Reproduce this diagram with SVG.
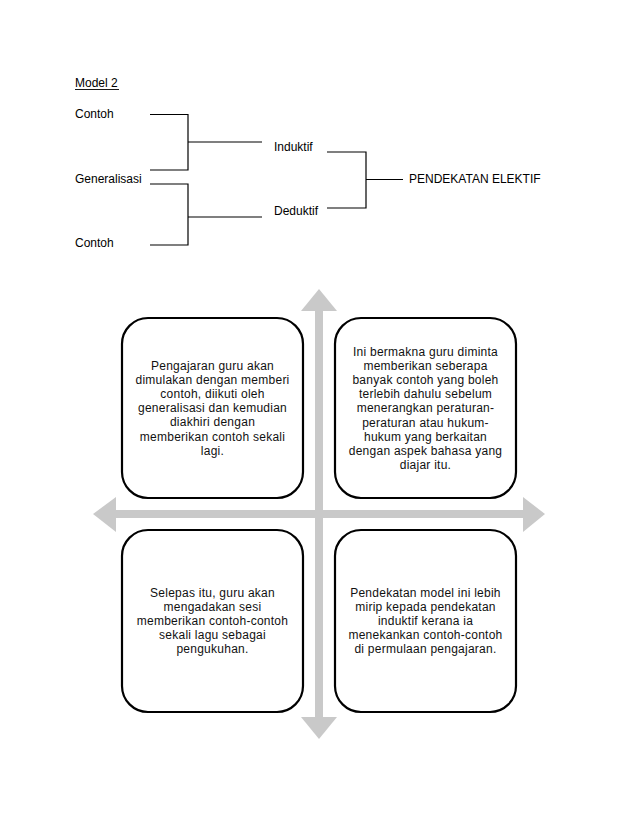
<svg xmlns="http://www.w3.org/2000/svg" width="638" height="826" viewBox="0 0 638 826">
<style>
text{font-family:"Liberation Sans",Arial,sans-serif;font-size:12px;fill:#000}
.bt{text-anchor:middle;font-size:12px;fill:#111;letter-spacing:0.25px}
.ln{stroke:#000;stroke-width:1.2;fill:none}
.box{fill:#fff;stroke:#000;stroke-width:2.2}
.arr{fill:#c9c9c9}
</style>
<rect width="638" height="826" fill="#fff"/>
<g id="title">
<text x="75" y="87">Model 2</text>
<line x1="75" y1="89.5" x2="119" y2="89.5" stroke="#000" stroke-width="0.9"/>
</g>
<g id="n-contoh1"><text x="75" y="118">Contoh</text></g>
<g id="n-generalisasi"><text x="75" y="183">Generalisasi</text></g>
<g id="n-contoh2"><text x="75" y="247">Contoh</text></g>
<g id="n-induktif"><text x="274" y="151">Induktif</text></g>
<g id="n-deduktif"><text x="274" y="215">Deduktif</text></g>
<g id="n-pendekatan"><text x="409" y="183">PENDEKATAN ELEKTIF</text></g>
<g id="connectors">
<path class="ln" d="M150 114.5H188V170H150M188 142H262"/>
<path class="ln" d="M150 184H188V245H150M188 217H262"/>
<path class="ln" d="M327 152H366V208H327M366 179.5H403"/>
</g>
<g id="axes">
<rect class="arr" x="315" y="310" width="8" height="408"/>
<polygon class="arr" points="319,289 337,311 301,311"/>
<polygon class="arr" points="319,739 337,717 301,717"/>
<rect class="arr" x="115" y="510" width="409" height="8"/>
<polygon class="arr" points="93,514 116,497 116,532"/>
<polygon class="arr" points="545,514 523,497 523,532"/>
</g>
<g id="box-tl">
<rect class="box" x="122" y="318" width="181" height="180" rx="26"/>
<text class="bt" x="212.5" y="370">Pengajaran guru akan</text>
<text class="bt" x="212.5" y="384.1">dimulakan dengan memberi</text>
<text class="bt" x="212.5" y="398.2">contoh, diikuti oleh</text>
<text class="bt" x="212.5" y="412.3">generalisasi dan kemudian</text>
<text class="bt" x="212.5" y="426.4">diakhiri dengan</text>
<text class="bt" x="212.5" y="440.5">memberikan contoh sekali</text>
<text class="bt" x="212.5" y="454.6">lagi.</text>
</g>
<g id="box-tr">
<rect class="box" x="335" y="318" width="181" height="180" rx="26"/>
<text class="bt" x="425.5" y="356">Ini bermakna guru diminta</text>
<text class="bt" x="425.5" y="370.1">memberikan seberapa</text>
<text class="bt" x="425.5" y="384.2">banyak contoh yang boleh</text>
<text class="bt" x="425.5" y="398.3">terlebih dahulu sebelum</text>
<text class="bt" x="425.5" y="412.4">menerangkan peraturan-</text>
<text class="bt" x="425.5" y="426.5">peraturan atau hukum-</text>
<text class="bt" x="425.5" y="440.6">hukum yang berkaitan</text>
<text class="bt" x="425.5" y="454.7">dengan aspek bahasa yang</text>
<text class="bt" x="425.5" y="468.8">diajar itu.</text>
</g>
<g id="box-bl">
<rect class="box" x="122" y="530" width="181" height="182" rx="26"/>
<text class="bt" x="212.5" y="597">Selepas itu, guru akan</text>
<text class="bt" x="212.5" y="611.1">mengadakan sesi</text>
<text class="bt" x="212.5" y="625.2">memberikan contoh-contoh</text>
<text class="bt" x="212.5" y="639.3">sekali lagu sebagai</text>
<text class="bt" x="212.5" y="653.4">pengukuhan.</text>
</g>
<g id="box-br">
<rect class="box" x="335" y="530" width="181" height="182" rx="26"/>
<text class="bt" x="425.5" y="597">Pendekatan model ini lebih</text>
<text class="bt" x="425.5" y="611.1">mirip kepada pendekatan</text>
<text class="bt" x="425.5" y="625.2">induktif kerana ia</text>
<text class="bt" x="425.5" y="639.3">menekankan contoh-contoh</text>
<text class="bt" x="425.5" y="653.4">di permulaan pengajaran.</text>
</g>
</svg>
